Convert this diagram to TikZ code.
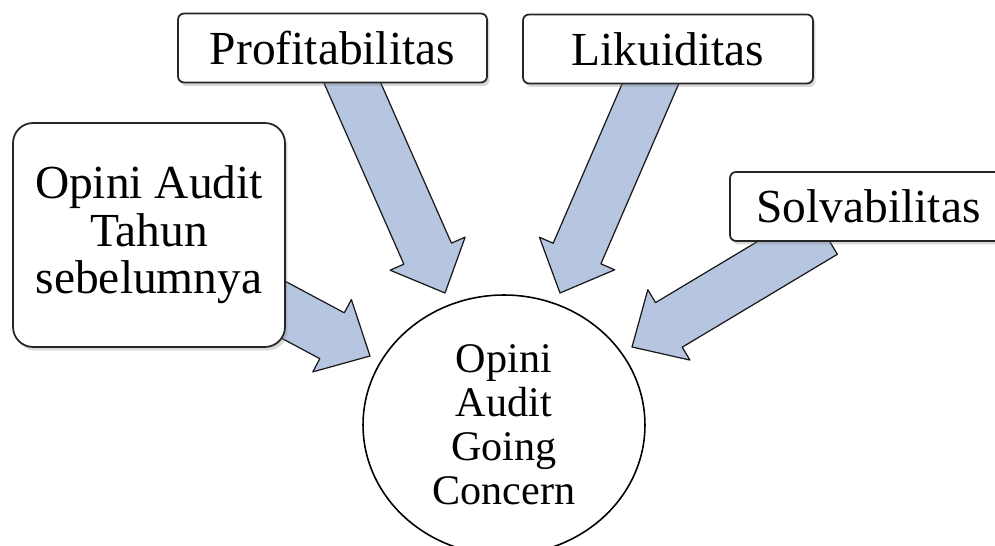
\documentclass[tikz,border=0pt]{standalone}
\usepackage{fontspec}
\setmainfont{Liberation Serif}
\usetikzlibrary{calc,shapes.geometric,shadows,backgrounds}

\definecolor{gcblue}{RGB}{182,197,224}

\tikzset{
  gcbox/.style={draw=black!85, line width=1pt, fill=white,
    rounded corners=0.12cm, inner sep=0pt, align=center,
    drop shadow={opacity=0.3, shadow xshift=0.05cm, shadow yshift=-0.07cm},
    font=\fontsize{27}{27}\selectfont},
  gcround/.style={ellipse, draw=black, line width=0.9pt, fill=white,
    inner sep=0pt, minimum width=5.64cm, minimum height=5.2cm,
    align=center, font=\fontsize{24}{25}\selectfont},
  garrow/.style={draw=black!90, line width=0.7pt, fill=gcblue,
    line join=round}
}

\newcommand{\gcarrow}[2]{%
  \coordinate (hb) at ($(#2)!0.86cm!(#1)$);
  \draw[garrow] ($(#1)!0.52cm!90:(#2)$) -- ($(hb)!0.52cm!90:(#2)$)
    -- ($(hb)!0.82cm!90:(#2)$) -- (#2) -- ($(hb)!0.82cm!-90:(#2)$)
    -- ($(hb)!0.52cm!-90:(#2)$) -- ($(#1)!0.52cm!-90:(#2)$) -- cycle;}

\begin{document}
\begin{tikzpicture}[x=0.02cm,y=-0.02cm]

  \useasboundingbox (0,0) rectangle (995,546);
  \clip (0,0) rectangle (995,546);

  \node[gcbox, minimum width=6.18cm, minimum height=1.38cm] (prof)
    at (332.5,48) {Profitabilitas};
  \node[gcbox, minimum width=5.8cm, minimum height=1.38cm] (liku)
    at (668,49) {Likuiditas};
  \node[gcbox, rounded corners=0.4cm, minimum width=5.44cm,
    minimum height=4.48cm] (opini) at (149,235)
    {Opini Audit\\Tahun\\sebelumnya};
  \node[gcbox, minimum width=5.54cm, minimum height=1.38cm] (solv)
    at (868.5,206.5) {Solvabilitas};

  \node[gcround] (goc) at (504,425) {Opini\\Audit\\Going\\Concern};

  \coordinate (s1) at ($(prof.center)+(11.5,16)$);
  \coordinate (s2) at ($(liku.center)+(-9,15)$);
  \coordinate (s3) at ($(opini.center)+(118,66)$);
  \coordinate (s4) at ($(solv.center)+(-44.5,25.5)$);
  \coordinate (t1) at ($(goc.center)+(-59,-132)$);
  \coordinate (t2) at ($(goc.center)+(56,-132)$);
  \coordinate (t3) at ($(goc.center)+(-134,-69)$);
  \coordinate (t4) at ($(goc.center)+(128,-78)$);

  \begin{scope}[on background layer]
    \fill[white] (0,0) rectangle (995,546);
    \gcarrow{s1}{t1} \gcarrow{s2}{t2}
    \gcarrow{s3}{t3} \gcarrow{s4}{t4}
  \end{scope}

\end{tikzpicture}
\end{document}
